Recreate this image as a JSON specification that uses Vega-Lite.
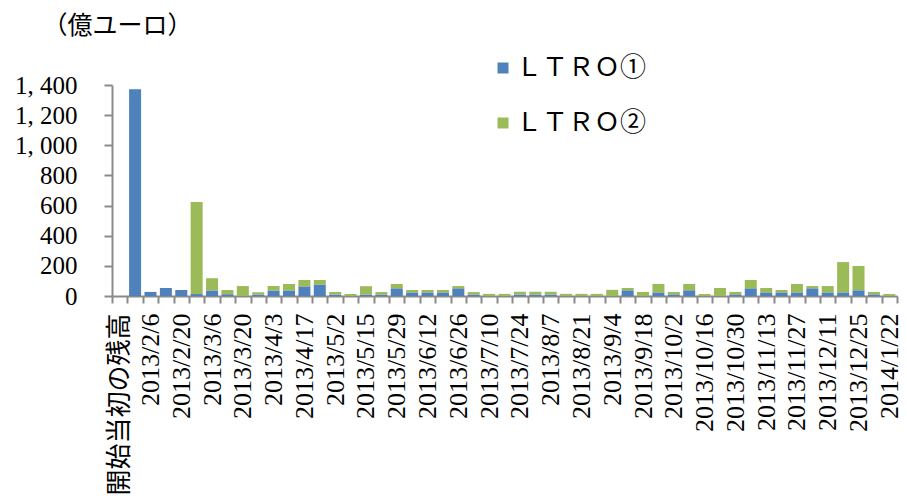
{
  "$schema": "https://vega.github.io/schema/vega-lite/v6.json",
  "autosize": "none",
  "width": 785,
  "height": 211,
  "padding": {"left": 112, "top": 85, "right": 10, "bottom": 202},
  "background": "white",
  "config": {
    "view": {"stroke": null},
    "mark": {"invalid": "break-paths-show-domains"}
  },
  "data": {
    "values": [
      {"date": "開始当初の残高", "series": "ＬＴＲＯ①", "value": null},
      {"date": "開始当初の残高", "series": "ＬＴＲＯ②", "value": null},
      {"date": "2013/1/30", "series": "ＬＴＲＯ①", "value": 1372},
      {"date": "2013/2/6", "series": "ＬＴＲＯ①", "value": 27},
      {"date": "2013/2/13", "series": "ＬＴＲＯ①", "value": 53},
      {"date": "2013/2/20", "series": "ＬＴＲＯ①", "value": 40},
      {"date": "2013/2/27", "series": "ＬＴＲＯ①", "value": 13},
      {"date": "2013/2/27", "series": "ＬＴＲＯ②", "value": 611},
      {"date": "2013/3/6", "series": "ＬＴＲＯ①", "value": 37},
      {"date": "2013/3/6", "series": "ＬＴＲＯ②", "value": 81},
      {"date": "2013/3/13", "series": "ＬＴＲＯ①", "value": 12},
      {"date": "2013/3/13", "series": "ＬＴＲＯ②", "value": 28},
      {"date": "2013/3/20", "series": "ＬＴＲＯ②", "value": 66},
      {"date": "2013/3/27", "series": "ＬＴＲＯ①", "value": 10},
      {"date": "2013/3/27", "series": "ＬＴＲＯ②", "value": 15},
      {"date": "2013/4/3", "series": "ＬＴＲＯ①", "value": 37},
      {"date": "2013/4/3", "series": "ＬＴＲＯ②", "value": 29},
      {"date": "2013/4/10", "series": "ＬＴＲＯ①", "value": 37},
      {"date": "2013/4/10", "series": "ＬＴＲＯ②", "value": 43},
      {"date": "2013/4/17", "series": "ＬＴＲＯ①", "value": 64},
      {"date": "2013/4/17", "series": "ＬＴＲＯ②", "value": 42},
      {"date": "2013/4/24", "series": "ＬＴＲＯ①", "value": 77},
      {"date": "2013/4/24", "series": "ＬＴＲＯ②", "value": 29},
      {"date": "2013/5/2", "series": "ＬＴＲＯ①", "value": 10},
      {"date": "2013/5/2", "series": "ＬＴＲＯ②", "value": 16},
      {"date": "2013/5/8", "series": "ＬＴＲＯ②", "value": 13},
      {"date": "2013/5/15", "series": "ＬＴＲＯ①", "value": 10},
      {"date": "2013/5/15", "series": "ＬＴＲＯ②", "value": 55},
      {"date": "2013/5/22", "series": "ＬＴＲＯ①", "value": 10},
      {"date": "2013/5/22", "series": "ＬＴＲＯ②", "value": 16},
      {"date": "2013/5/29", "series": "ＬＴＲＯ①", "value": 51},
      {"date": "2013/5/29", "series": "ＬＴＲＯ②", "value": 29},
      {"date": "2013/6/5", "series": "ＬＴＲＯ①", "value": 24},
      {"date": "2013/6/5", "series": "ＬＴＲＯ②", "value": 16},
      {"date": "2013/6/12", "series": "ＬＴＲＯ①", "value": 24},
      {"date": "2013/6/12", "series": "ＬＴＲＯ②", "value": 16},
      {"date": "2013/6/19", "series": "ＬＴＲＯ①", "value": 24},
      {"date": "2013/6/19", "series": "ＬＴＲＯ②", "value": 16},
      {"date": "2013/6/26", "series": "ＬＴＲＯ①", "value": 51},
      {"date": "2013/6/26", "series": "ＬＴＲＯ②", "value": 15},
      {"date": "2013/7/3", "series": "ＬＴＲＯ①", "value": 10},
      {"date": "2013/7/3", "series": "ＬＴＲＯ②", "value": 16},
      {"date": "2013/7/10", "series": "ＬＴＲＯ②", "value": 14},
      {"date": "2013/7/17", "series": "ＬＴＲＯ②", "value": 14},
      {"date": "2013/7/24", "series": "ＬＴＲＯ①", "value": 10},
      {"date": "2013/7/24", "series": "ＬＴＲＯ②", "value": 18},
      {"date": "2013/7/31", "series": "ＬＴＲＯ①", "value": 10},
      {"date": "2013/7/31", "series": "ＬＴＲＯ②", "value": 18},
      {"date": "2013/8/7", "series": "ＬＴＲＯ①", "value": 10},
      {"date": "2013/8/7", "series": "ＬＴＲＯ②", "value": 18},
      {"date": "2013/8/14", "series": "ＬＴＲＯ②", "value": 14},
      {"date": "2013/8/21", "series": "ＬＴＲＯ②", "value": 14},
      {"date": "2013/8/28", "series": "ＬＴＲＯ②", "value": 14},
      {"date": "2013/9/4", "series": "ＬＴＲＯ②", "value": 41},
      {"date": "2013/9/11", "series": "ＬＴＲＯ①", "value": 38},
      {"date": "2013/9/11", "series": "ＬＴＲＯ②", "value": 15},
      {"date": "2013/9/18", "series": "ＬＴＲＯ②", "value": 27},
      {"date": "2013/9/25", "series": "ＬＴＲＯ①", "value": 24},
      {"date": "2013/9/25", "series": "ＬＴＲＯ②", "value": 56},
      {"date": "2013/10/2", "series": "ＬＴＲＯ①", "value": 11},
      {"date": "2013/10/2", "series": "ＬＴＲＯ②", "value": 16},
      {"date": "2013/10/9", "series": "ＬＴＲＯ①", "value": 38},
      {"date": "2013/10/9", "series": "ＬＴＲＯ②", "value": 42},
      {"date": "2013/10/16", "series": "ＬＴＲＯ②", "value": 13},
      {"date": "2013/10/23", "series": "ＬＴＲＯ②", "value": 53},
      {"date": "2013/10/30", "series": "ＬＴＲＯ①", "value": 11},
      {"date": "2013/10/30", "series": "ＬＴＲＯ②", "value": 16},
      {"date": "2013/11/6", "series": "ＬＴＲＯ①", "value": 51},
      {"date": "2013/11/6", "series": "ＬＴＲＯ②", "value": 55},
      {"date": "2013/11/13", "series": "ＬＴＲＯ①", "value": 24},
      {"date": "2013/11/13", "series": "ＬＴＲＯ②", "value": 29},
      {"date": "2013/11/20", "series": "ＬＴＲＯ①", "value": 24},
      {"date": "2013/11/20", "series": "ＬＴＲＯ②", "value": 16},
      {"date": "2013/11/27", "series": "ＬＴＲＯ①", "value": 24},
      {"date": "2013/11/27", "series": "ＬＴＲＯ②", "value": 56},
      {"date": "2013/12/4", "series": "ＬＴＲＯ①", "value": 51},
      {"date": "2013/12/4", "series": "ＬＴＲＯ②", "value": 15},
      {"date": "2013/12/11", "series": "ＬＴＲＯ①", "value": 24},
      {"date": "2013/12/11", "series": "ＬＴＲＯ②", "value": 42},
      {"date": "2013/12/18", "series": "ＬＴＲＯ①", "value": 24},
      {"date": "2013/12/18", "series": "ＬＴＲＯ②", "value": 201},
      {"date": "2013/12/25", "series": "ＬＴＲＯ①", "value": 38},
      {"date": "2013/12/25", "series": "ＬＴＲＯ②", "value": 161},
      {"date": "2014/1/8", "series": "ＬＴＲＯ①", "value": 11},
      {"date": "2014/1/8", "series": "ＬＴＲＯ②", "value": 16},
      {"date": "2014/1/22", "series": "ＬＴＲＯ②", "value": 13}
    ]
  },
  "mark": {"type": "bar", "width": {"band": 0.78}},
  "encoding": {
    "x": {
      "field": "date",
      "type": "nominal",
      "sort": null,
      "scale": {"paddingInner": 0, "paddingOuter": 0},
      "axis": {
        "title": null,
        "tickBand": "extent",
        "tickSize": 7,
        "tickWidth": 2,
        "tickColor": "#8a8a8a",
        "domainColor": "#8a8a8a",
        "domainWidth": 2,
        "labelAngle": 270,
        "labelExpr": "round(datum.index * 50) % 2 == 0 ? datum.label : ''",
        "labelFont": "'Liberation Serif', 'Times New Roman', 'Noto Sans CJK JP', serif",
        "labelFontSize": 26,
        "labelColor": "#000000",
        "labelPadding": 10,
        "labelOverlap": false,
        "labelBound": false,
        "labelLimit": 0
      }
    },
    "y": {
      "field": "value",
      "type": "quantitative",
      "stack": "zero",
      "scale": {"domain": [0, 1400], "nice": false},
      "axis": {
        "values": [0, 200, 400, 600, 800, 1000, 1200, 1400],
        "labelExpr": "replace(format(datum.value, ','), ',', ', ')",
        "grid": false,
        "tickSize": 8,
        "tickWidth": 2,
        "tickColor": "#8a8a8a",
        "domainColor": "#8a8a8a",
        "domainWidth": 2,
        "labelFont": "'Liberation Serif', 'Times New Roman', serif",
        "labelFontSize": 25,
        "labelColor": "#000000",
        "labelPadding": 27,
        "title": "（億ユーロ）",
        "titleAngle": 0,
        "titleX": 5,
        "titleY": -60,
        "titleAlign": "center",
        "titleBaseline": "middle",
        "titleFont": "'Noto Sans CJK JP'",
        "titleFontSize": 25,
        "titleFontWeight": "normal",
        "titleColor": "#000000"
      }
    },
    "color": {
      "field": "series",
      "type": "nominal",
      "scale": {"domain": ["ＬＴＲＯ①", "ＬＴＲＯ②"], "range": ["#4f81bd", "#9bbb59"]},
      "legend": {
        "title": null,
        "orient": "none",
        "legendX": 378,
        "legendY": -30,
        "direction": "vertical",
        "symbolType": "square",
        "symbolSize": 121,
        "symbolStrokeWidth": 0,
        "symbolOpacity": 1,
        "labelFont": "'Liberation Serif', 'Noto Sans CJK JP', serif",
        "labelFontSize": 26,
        "labelColor": "#000000",
        "labelOffset": 0,
        "rowPadding": 29,
        "labelLimit": 0
      }
    },
    "order": {"field": "series", "sort": "ascending"}
  }
}
